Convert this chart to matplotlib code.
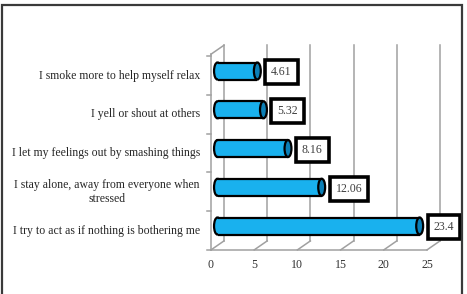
import matplotlib
matplotlib.use('Agg')
import matplotlib.pyplot as plt
import matplotlib.patches as mpatches
import matplotlib.transforms as mtransforms

# data (bottom to top)
labels = [
    'I try to act as if nothing is bothering me',
    'I stay alone, away from everyone when\nstressed',
    'I let my feelings out by smashing things',
    'I yell or shout at others',
    'I smoke more to help myself relax',
]
values = [23.4, 12.06, 8.16, 5.32, 4.61]
value_text = ['23.4', '12.06', '8.16', '5.32', '4.61']
xticks = [0, 5, 10, 15, 20, 25]

plt.rcParams['font.family'] = ['Liberation Serif', 'DejaVu Serif']

W, H = 467, 294
fig = plt.figure(figsize=(W / 100, H / 100), dpi=100)
fig.patch.set_facecolor('white')

# axes = mid-depth plane of the fake 3d box
ax = fig.add_axes([217.5 / W, 1 - 245.4 / H, 216 / W, 193.75 / H])
ax.set_xlim(0, 25)
ax.set_ylim(-0.5, 4.5)
ax.axis('off')

dx, dy = 6.5, 4.5  # depth offset in pixels
front = mtransforms.offset_copy(ax.transData, fig=fig, x=-dx, y=-dy, units='dots')
back = mtransforms.offset_copy(ax.transData, fig=fig, x=dx, y=dy, units='dots')
ident = mtransforms.IdentityTransform()

grid_c = '#a0a0a0'
# back wall gridlines
for xt in xticks:
    ax.plot([xt, xt], [-0.5, 4.55], color=grid_c, lw=1.1, transform=back,
            zorder=1, clip_on=False)
    # floor slants
    p0 = front.transform((xt, -0.5))
    p1 = back.transform((xt, -0.5))
    ax.plot([p0[0], p1[0]], [p0[1], p1[1]], color=grid_c, lw=1.1,
            transform=ident, zorder=1, clip_on=False)
    ax.annotate(str(xt), xy=(xt, -0.5), xycoords=front, xytext=(0, -11),
                textcoords='offset points', ha='center', va='center',
                fontsize=8.6, color='#333333', annotation_clip=False)

# front baseline and left wall edge
ax.plot([0, 25], [-0.5, -0.5], color=grid_c, lw=1.1, transform=front,
        zorder=1, clip_on=False)
ax.plot([0, 0], [-0.5, 4.55], color=grid_c, lw=1.1, transform=front,
        zorder=1, clip_on=False)
p0 = front.transform((0, 4.55))
p1 = back.transform((0, 4.55))
ax.plot([p0[0], p1[0]], [p0[1], p1[1]], color=grid_c, lw=1.1,
        transform=ident, zorder=1, clip_on=False)

# category boundary ticks on the left
for b in [-0.5, 0.5, 1.5, 2.5, 3.5, 4.5]:
    p = front.transform((0, b))
    ax.plot([p[0] - 4, p[0]], [p[1], p[1]], color=grid_c, lw=1.1,
            transform=ident, zorder=1, clip_on=False)

# category labels
for i, lab in enumerate(labels):
    ax.annotate(lab, xy=(0, i), xycoords=front, xytext=(-8, 0),
                textcoords='offset points', ha='right', va='center',
                multialignment='center', fontsize=8.5, color='#262626',
                annotation_clip=False)

# cylinders
bar_c = '#19b1ee'
cap_c = '#0b7fb6'
bh = 0.44
cap_w = 0.8
ys = list(range(len(values)))
for y, v in zip(ys, values):
    ax.add_patch(mpatches.Ellipse((0, y), cap_w, bh, facecolor=bar_c,
                                  edgecolor='black', lw=1.6, zorder=3,
                                  clip_on=False))
ax.barh(ys, values, height=bh, color=bar_c, edgecolor='none', zorder=4)
for y, v in zip(ys, values):
    ax.plot([0, v], [y + bh / 2, y + bh / 2], color='black', lw=1.6, zorder=5,
            solid_capstyle='butt', clip_on=False)
    ax.plot([0, v], [y - bh / 2, y - bh / 2], color='black', lw=1.6, zorder=5,
            solid_capstyle='butt', clip_on=False)
    ax.add_patch(mpatches.Ellipse((v, y), cap_w, bh, facecolor=cap_c,
                                  edgecolor='black', lw=1.6, zorder=6,
                                  clip_on=False))

# value boxes
for y, v, t in zip(ys, values, value_text):
    ax.annotate(t, xy=(v, y), xytext=(10, -1), textcoords='offset points',
                ha='left', va='center', fontsize=8.6, color='#404040',
                annotation_clip=False, zorder=7,
                bbox=dict(boxstyle='square,pad=0.5', facecolor='white',
                          edgecolor='black', lw=2.6))

# outer frame
fig.patches.append(mpatches.Rectangle((1.5 / W, -0.05), 460.5 / W, 1 - 5.5 / H + 0.05,
                                      transform=fig.transFigure, fill=False,
                                      edgecolor='#3a3a3a', lw=1.6))

plt.savefig('out.png', dpi=100)
